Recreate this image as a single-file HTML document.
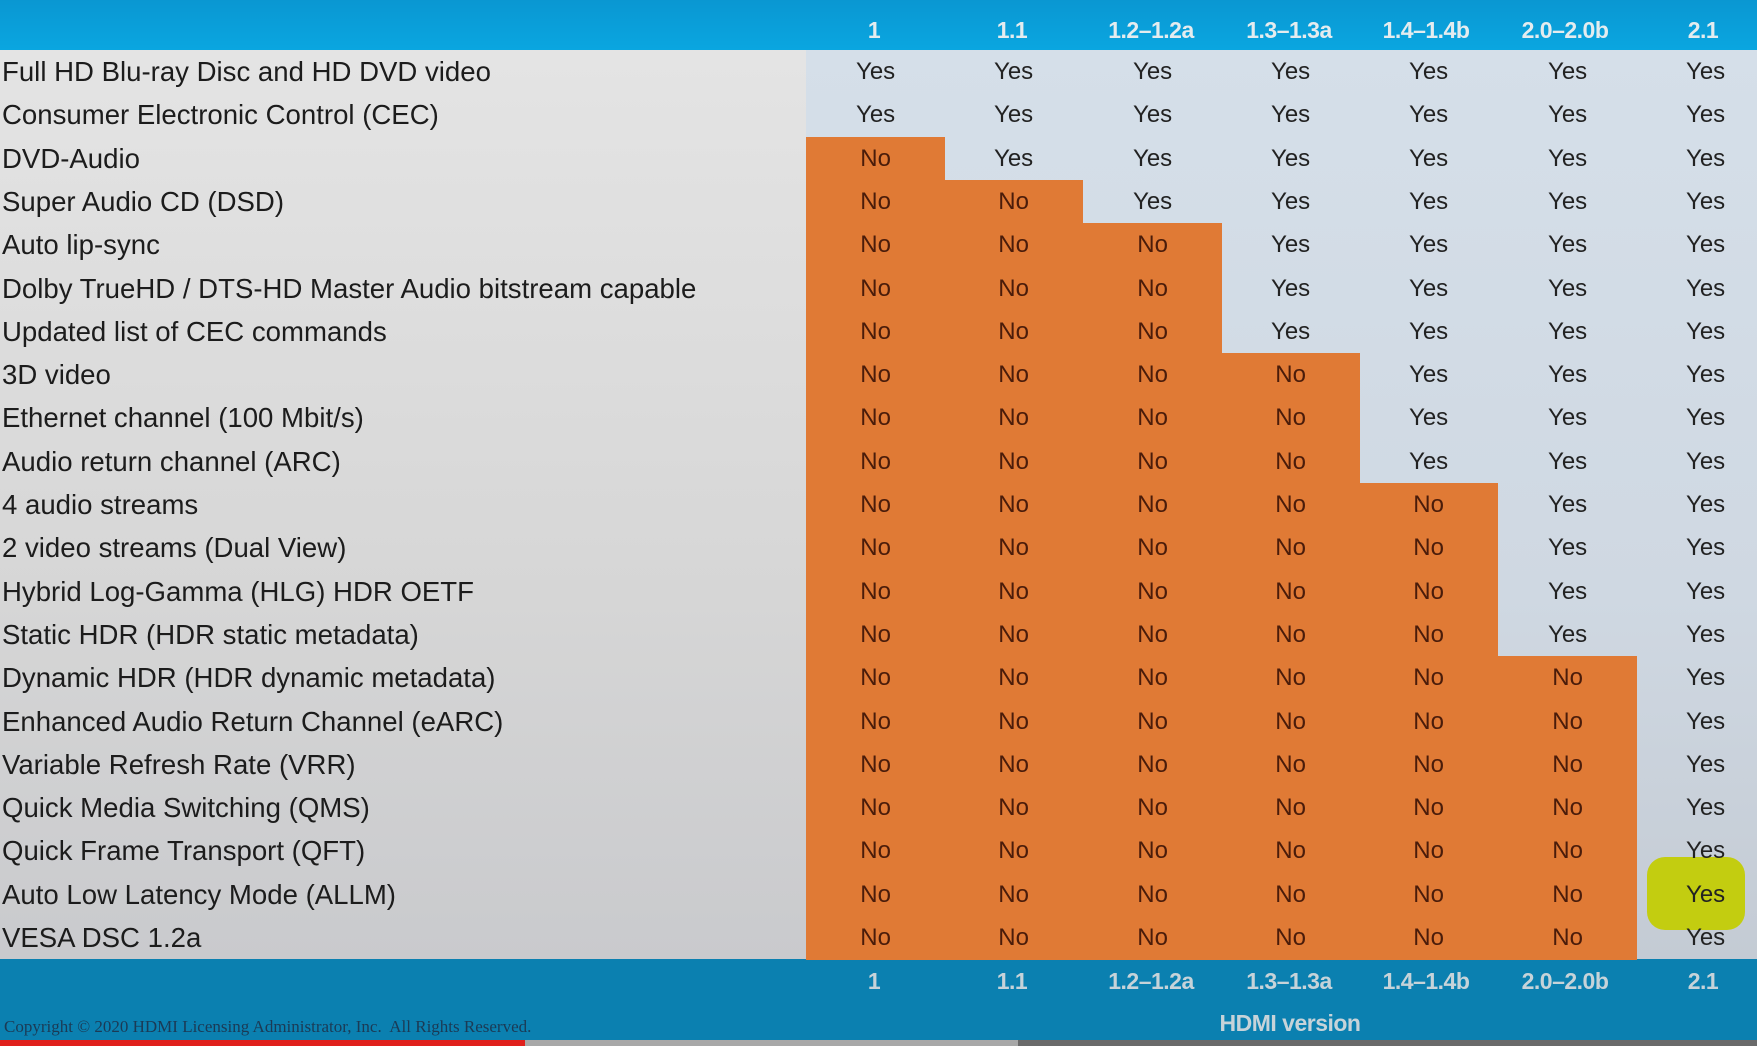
<!DOCTYPE html>
<html><head><meta charset="utf-8"><style>
*{margin:0;padding:0;box-sizing:border-box}
body{width:1757px;height:1046px;overflow:hidden;background:#dcdcdc;font-family:"Liberation Sans",sans-serif;position:relative}
#bg{position:absolute;left:0;top:50px;width:1757px;height:910px;background:linear-gradient(#e4e4e4,#d6d6d6 60%,#c9cacd)}
#yesbg{position:absolute;left:806px;top:50px;width:951px;height:910px;background:linear-gradient(#d5dfe9,#cfd8e2 60%,#c4cbd4)}
#top{position:absolute;left:0;top:0;width:1757px;height:50px;background:linear-gradient(#0a97d2,#0aa6e0)}
#bot{position:absolute;left:0;top:959px;width:1757px;height:81px;background:#0b80b0}
.hdr{position:absolute;width:138px;text-align:center;color:#e4ecef;font-weight:bold;font-size:23px;letter-spacing:-0.5px}
.row{position:absolute;left:0;height:43.3px;width:1757px}
.lab{position:absolute;left:2px;top:6px;font-size:28px;color:#1c1c1c;white-space:nowrap;transform:scaleX(0.985);transform-origin:0 0}
.c{position:absolute;top:0;height:43.6px;width:139.2px;text-align:center;font-size:24px;line-height:43px;color:#222}
.o{background:#e07a35;color:#4a1c0a}
#hl{position:absolute;left:1647px;top:857px;width:98px;height:73px;background:#c3cd10;border-radius:18px}
</style></head><body>
<div id="bg"></div><div id="yesbg"></div><div id="top"></div><div id="bot"></div>
<div id="hl"></div>
<div class="hdr" style="left:805px;top:17px">1</div>
<div class="hdr" style="left:943px;top:17px">1.1</div>
<div class="hdr" style="left:1082px;top:17px">1.2–1.2a</div>
<div class="hdr" style="left:1220px;top:17px">1.3–1.3a</div>
<div class="hdr" style="left:1357px;top:17px">1.4–1.4b</div>
<div class="hdr" style="left:1496px;top:17px">2.0–2.0b</div>
<div class="hdr" style="left:1634px;top:17px">2.1</div>
<div class="hdr" style="left:805px;top:968px;color:#c6d3d9">1</div>
<div class="hdr" style="left:943px;top:968px;color:#c6d3d9">1.1</div>
<div class="hdr" style="left:1082px;top:968px;color:#c6d3d9">1.2–1.2a</div>
<div class="hdr" style="left:1220px;top:968px;color:#c6d3d9">1.3–1.3a</div>
<div class="hdr" style="left:1357px;top:968px;color:#c6d3d9">1.4–1.4b</div>
<div class="hdr" style="left:1496px;top:968px;color:#c6d3d9">2.0–2.0b</div>
<div class="hdr" style="left:1634px;top:968px;color:#c6d3d9">2.1</div>
<div class="hdr" style="left:1160px;top:1010px;width:260px;color:#c6d3d9">HDMI version</div>
<div style="position:absolute;left:4px;top:1017px;font-family:'Liberation Serif',serif;font-size:17px;color:#1b3a55;white-space:nowrap">Copyright © 2020 HDMI Licensing Administrator, Inc.&nbsp; All Rights Reserved.</div>
<div style="position:absolute;left:0;top:1040px;width:1757px;height:6px;background:#6a6a6a"></div>
<div style="position:absolute;left:0;top:1040px;width:525px;height:6px;background:#e0201c"></div>
<div style="position:absolute;left:525px;top:1040px;width:493px;height:6px;background:#a8a8a8"></div>

<div class="row" style="top:50px"><div class="lab">Full HD Blu-ray Disc and HD DVD video</div><div class="c" style="left:806px">Yes</div><div class="c" style="left:944px">Yes</div><div class="c" style="left:1083px">Yes</div><div class="c" style="left:1221px">Yes</div><div class="c" style="left:1359px">Yes</div><div class="c" style="left:1498px">Yes</div><div class="c" style="left:1636px">Yes</div></div>
<div class="row" style="top:93.3px"><div class="lab">Consumer Electronic Control (CEC)</div><div class="c" style="left:806px">Yes</div><div class="c" style="left:944px">Yes</div><div class="c" style="left:1083px">Yes</div><div class="c" style="left:1221px">Yes</div><div class="c" style="left:1359px">Yes</div><div class="c" style="left:1498px">Yes</div><div class="c" style="left:1636px">Yes</div></div>
<div class="row" style="top:136.6px"><div class="lab">DVD-Audio</div><div class="c o" style="left:806px">No</div><div class="c" style="left:944px">Yes</div><div class="c" style="left:1083px">Yes</div><div class="c" style="left:1221px">Yes</div><div class="c" style="left:1359px">Yes</div><div class="c" style="left:1498px">Yes</div><div class="c" style="left:1636px">Yes</div></div>
<div class="row" style="top:179.9px"><div class="lab">Super Audio CD (DSD)</div><div class="c o" style="left:806px">No</div><div class="c o" style="left:944px">No</div><div class="c" style="left:1083px">Yes</div><div class="c" style="left:1221px">Yes</div><div class="c" style="left:1359px">Yes</div><div class="c" style="left:1498px">Yes</div><div class="c" style="left:1636px">Yes</div></div>
<div class="row" style="top:223.2px"><div class="lab">Auto lip-sync</div><div class="c o" style="left:806px">No</div><div class="c o" style="left:944px">No</div><div class="c o" style="left:1083px">No</div><div class="c" style="left:1221px">Yes</div><div class="c" style="left:1359px">Yes</div><div class="c" style="left:1498px">Yes</div><div class="c" style="left:1636px">Yes</div></div>
<div class="row" style="top:266.5px"><div class="lab">Dolby TrueHD / DTS-HD Master Audio bitstream capable</div><div class="c o" style="left:806px">No</div><div class="c o" style="left:944px">No</div><div class="c o" style="left:1083px">No</div><div class="c" style="left:1221px">Yes</div><div class="c" style="left:1359px">Yes</div><div class="c" style="left:1498px">Yes</div><div class="c" style="left:1636px">Yes</div></div>
<div class="row" style="top:309.8px"><div class="lab">Updated list of CEC commands</div><div class="c o" style="left:806px">No</div><div class="c o" style="left:944px">No</div><div class="c o" style="left:1083px">No</div><div class="c" style="left:1221px">Yes</div><div class="c" style="left:1359px">Yes</div><div class="c" style="left:1498px">Yes</div><div class="c" style="left:1636px">Yes</div></div>
<div class="row" style="top:353.1px"><div class="lab">3D video</div><div class="c o" style="left:806px">No</div><div class="c o" style="left:944px">No</div><div class="c o" style="left:1083px">No</div><div class="c o" style="left:1221px">No</div><div class="c" style="left:1359px">Yes</div><div class="c" style="left:1498px">Yes</div><div class="c" style="left:1636px">Yes</div></div>
<div class="row" style="top:396.4px"><div class="lab">Ethernet channel (100 Mbit/s)</div><div class="c o" style="left:806px">No</div><div class="c o" style="left:944px">No</div><div class="c o" style="left:1083px">No</div><div class="c o" style="left:1221px">No</div><div class="c" style="left:1359px">Yes</div><div class="c" style="left:1498px">Yes</div><div class="c" style="left:1636px">Yes</div></div>
<div class="row" style="top:439.7px"><div class="lab">Audio return channel (ARC)</div><div class="c o" style="left:806px">No</div><div class="c o" style="left:944px">No</div><div class="c o" style="left:1083px">No</div><div class="c o" style="left:1221px">No</div><div class="c" style="left:1359px">Yes</div><div class="c" style="left:1498px">Yes</div><div class="c" style="left:1636px">Yes</div></div>
<div class="row" style="top:483px"><div class="lab">4 audio streams</div><div class="c o" style="left:806px">No</div><div class="c o" style="left:944px">No</div><div class="c o" style="left:1083px">No</div><div class="c o" style="left:1221px">No</div><div class="c o" style="left:1359px">No</div><div class="c" style="left:1498px">Yes</div><div class="c" style="left:1636px">Yes</div></div>
<div class="row" style="top:526.3px"><div class="lab">2 video streams (Dual View)</div><div class="c o" style="left:806px">No</div><div class="c o" style="left:944px">No</div><div class="c o" style="left:1083px">No</div><div class="c o" style="left:1221px">No</div><div class="c o" style="left:1359px">No</div><div class="c" style="left:1498px">Yes</div><div class="c" style="left:1636px">Yes</div></div>
<div class="row" style="top:569.6px"><div class="lab">Hybrid Log-Gamma (HLG) HDR OETF</div><div class="c o" style="left:806px">No</div><div class="c o" style="left:944px">No</div><div class="c o" style="left:1083px">No</div><div class="c o" style="left:1221px">No</div><div class="c o" style="left:1359px">No</div><div class="c" style="left:1498px">Yes</div><div class="c" style="left:1636px">Yes</div></div>
<div class="row" style="top:612.9px"><div class="lab">Static HDR (HDR static metadata)</div><div class="c o" style="left:806px">No</div><div class="c o" style="left:944px">No</div><div class="c o" style="left:1083px">No</div><div class="c o" style="left:1221px">No</div><div class="c o" style="left:1359px">No</div><div class="c" style="left:1498px">Yes</div><div class="c" style="left:1636px">Yes</div></div>
<div class="row" style="top:656.2px"><div class="lab">Dynamic HDR (HDR dynamic metadata)</div><div class="c o" style="left:806px">No</div><div class="c o" style="left:944px">No</div><div class="c o" style="left:1083px">No</div><div class="c o" style="left:1221px">No</div><div class="c o" style="left:1359px">No</div><div class="c o" style="left:1498px">No</div><div class="c" style="left:1636px">Yes</div></div>
<div class="row" style="top:699.5px"><div class="lab">Enhanced Audio Return Channel (eARC)</div><div class="c o" style="left:806px">No</div><div class="c o" style="left:944px">No</div><div class="c o" style="left:1083px">No</div><div class="c o" style="left:1221px">No</div><div class="c o" style="left:1359px">No</div><div class="c o" style="left:1498px">No</div><div class="c" style="left:1636px">Yes</div></div>
<div class="row" style="top:742.8px"><div class="lab">Variable Refresh Rate (VRR)</div><div class="c o" style="left:806px">No</div><div class="c o" style="left:944px">No</div><div class="c o" style="left:1083px">No</div><div class="c o" style="left:1221px">No</div><div class="c o" style="left:1359px">No</div><div class="c o" style="left:1498px">No</div><div class="c" style="left:1636px">Yes</div></div>
<div class="row" style="top:786.1px"><div class="lab">Quick Media Switching (QMS)</div><div class="c o" style="left:806px">No</div><div class="c o" style="left:944px">No</div><div class="c o" style="left:1083px">No</div><div class="c o" style="left:1221px">No</div><div class="c o" style="left:1359px">No</div><div class="c o" style="left:1498px">No</div><div class="c" style="left:1636px">Yes</div></div>
<div class="row" style="top:829.4px"><div class="lab">Quick Frame Transport (QFT)</div><div class="c o" style="left:806px">No</div><div class="c o" style="left:944px">No</div><div class="c o" style="left:1083px">No</div><div class="c o" style="left:1221px">No</div><div class="c o" style="left:1359px">No</div><div class="c o" style="left:1498px">No</div><div class="c" style="left:1636px">Yes</div></div>
<div class="row" style="top:872.7px"><div class="lab">Auto Low Latency Mode (ALLM)</div><div class="c o" style="left:806px">No</div><div class="c o" style="left:944px">No</div><div class="c o" style="left:1083px">No</div><div class="c o" style="left:1221px">No</div><div class="c o" style="left:1359px">No</div><div class="c o" style="left:1498px">No</div><div class="c" style="left:1636px">Yes</div></div>
<div class="row" style="top:916px"><div class="lab">VESA DSC 1.2a</div><div class="c o" style="left:806px">No</div><div class="c o" style="left:944px">No</div><div class="c o" style="left:1083px">No</div><div class="c o" style="left:1221px">No</div><div class="c o" style="left:1359px">No</div><div class="c o" style="left:1498px">No</div><div class="c" style="left:1636px">Yes</div></div>
</body></html>
